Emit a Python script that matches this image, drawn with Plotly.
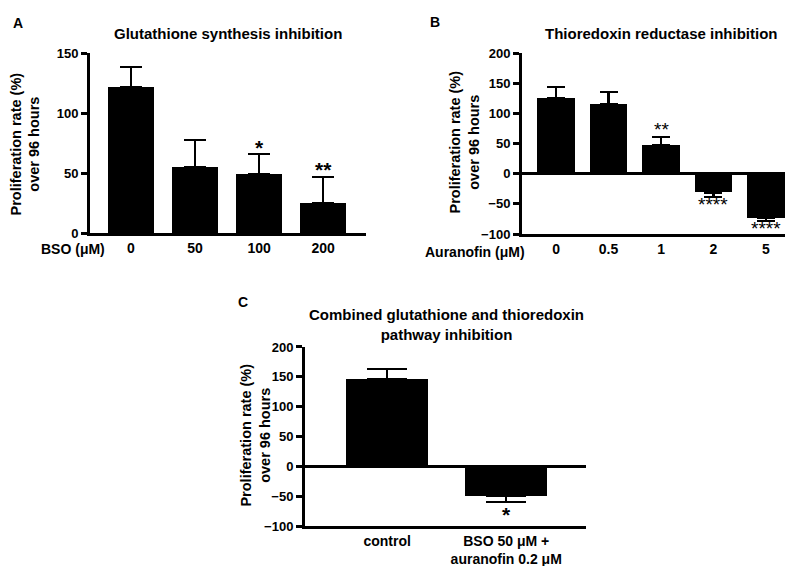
import plotly.graph_objects as go

# ---------------- data ----------------
bso_labels = ["0", "50", "100", "200"]
bso_mean = [122, 55, 49, 25]
bso_err = [17, 23, 17, 22]
bso_sig = ["", "", "*", "**"]

aur_labels = ["0", "0.5", "1", "2", "5"]
aur_mean = [125, 116, 47, -31, -74]
aur_err = [19, 20, 14, 7, 4]
aur_sig = ["", "", "**", "****", "****"]

comb_labels = ["control", "BSO 50 μM +<br>auranofin 0.2 μM"]
comb_mean = [146, -49]
comb_err = [17, 11]
comb_sig = ["", "*"]

W, H = 793, 566
FONT = "Liberation Sans, Arial, sans-serif"


def px(x):
    return x / W


def py(y):
    return 1 - y / H


fig = go.Figure()


def add_panel(labels, mean, err, xa, ya, cap, width):
    up = [e if m >= 0 else 0 for m, e in zip(mean, err)]
    dn = [0 if m >= 0 else e for m, e in zip(mean, err)]
    fig.add_trace(go.Bar(
        x=labels, y=mean, xaxis=xa, yaxis=ya, width=width,
        marker=dict(color="black", line=dict(width=0)),
        error_y=dict(type="data", symmetric=False, array=up, arrayminus=dn,
                     color="black", thickness=2.2, width=cap),
        hoverinfo="skip",
    ))


add_panel(bso_labels, bso_mean, bso_err, "x", "y", 11, 0.72)
add_panel(aur_labels, aur_mean, aur_err, "x2", "y2", 9, 0.72)
add_panel(comb_labels, comb_mean, comb_err, "x3", "y3", 20, 0.69)

xcommon = dict(showline=True, linewidth=3, linecolor="black", ticks="",
               showgrid=False, zeroline=False, type="category",
               tickfont=dict(family=FONT, size=14, color="black", weight="bold"))
ycommon = dict(showline=True, linewidth=3, linecolor="black", ticks="outside",
               ticklen=6, tickwidth=2.5, tickcolor="black", showgrid=False,
               tickfont=dict(family=FONT, size=13, color="black", weight="bold"))

fig.update_layout(
    width=W, height=H, margin=dict(l=0, r=0, t=0, b=0),
    paper_bgcolor="white", plot_bgcolor="white", showlegend=False,
    font=dict(family=FONT, color="black"),
    bargap=0,
    xaxis=dict(xcommon, domain=[px(82), px(358)], range=[-0.64, 3.67], anchor="y"),
    yaxis=dict(ycommon, domain=[py(224), py(39.5)], range=[0, 150],
               tickvals=[0, 50, 100, 150], zeroline=False, anchor="x"),
    xaxis2=dict(xcommon, domain=[px(514), px(791)], range=[-0.65, 4.63], anchor="y2"),
    yaxis2=dict(ycommon, domain=[py(225), py(39.3)], range=[-100, 200],
                tickvals=[-100, -50, 0, 50, 100, 150, 200], zeroline=True,
                zerolinewidth=3, zerolinecolor="black", anchor="x2"),
    xaxis3=dict(xcommon, domain=[px(297), px(578)], range=[-0.69, 1.67], anchor="y3"),
    yaxis3=dict(ycommon, domain=[py(525), py(341)], range=[-100, 200],
                tickvals=[-100, -50, 0, 50, 100, 150, 200], zeroline=True,
                zerolinewidth=3, zerolinecolor="black", anchor="x3"),
)

ann = []


def txt(text, x, y, size, bold=True, angle=0, xanchor="center", yanchor="middle"):
    ann.append(dict(text=text, x=px(x), y=py(y), xref="paper", yref="paper",
                    showarrow=False, xanchor=xanchor, yanchor=yanchor,
                    textangle=angle,
                    font=dict(family=FONT, size=size, color="black",
                              weight="bold" if bold else "normal")))


# panel letters
txt("A", 10, 8, 14)
txt("B", 427, 7, 14)
txt("C", 235, 295, 14)
# titles
txt("Glutathione synthesis inhibition", 220, 19, 15)
txt("Thioredoxin reductase inhibition", 653, 19, 15)
txt("Combined glutathione and thioredoxin<br>pathway inhibition", 439, 318, 15)
# y titles
ytitle = "Proliferation rate (%)<br>over 96 hours"
txt(ytitle, 17, 133, 14.5, angle=-90)
txt(ytitle, 457, 131, 14.5, angle=-90)
txt(ytitle, 248, 432, 14.5, angle=-90)
# x-axis side labels
txt("BSO (μM)", 65, 240, 14)
txt("Auranofin (μM)", 467, 243, 14)


def stars(labels, mean, err, sig, xr, yr, size, weight, up_shift, dn_shift):
    for i, (m, e, s) in enumerate(zip(mean, err, sig)):
        if not s:
            continue
        yv = m + e if m >= 0 else m - e
        ann.append(dict(text=s, x=i, y=yv, xref=xr, yref=yr, showarrow=False,
                        xanchor="center", yanchor="bottom" if m >= 0 else "top",
                        yshift=up_shift if m >= 0 else dn_shift,
                        font=dict(family=FONT, size=size, color="black",
                                  weight=weight)))


stars(bso_labels, bso_mean, bso_err, bso_sig, "x", "y", 21, "bold", -6.5, 1)
stars(aur_labels, aur_mean, aur_err, aur_sig, "x2", "y2", 19, "normal", -5, 5)
stars(comb_labels, comb_mean, comb_err, comb_sig, "x3", "y3", 21, "bold", -6.5, 1)

fig.update_layout(annotations=ann)
fig.write_html("out.html")
